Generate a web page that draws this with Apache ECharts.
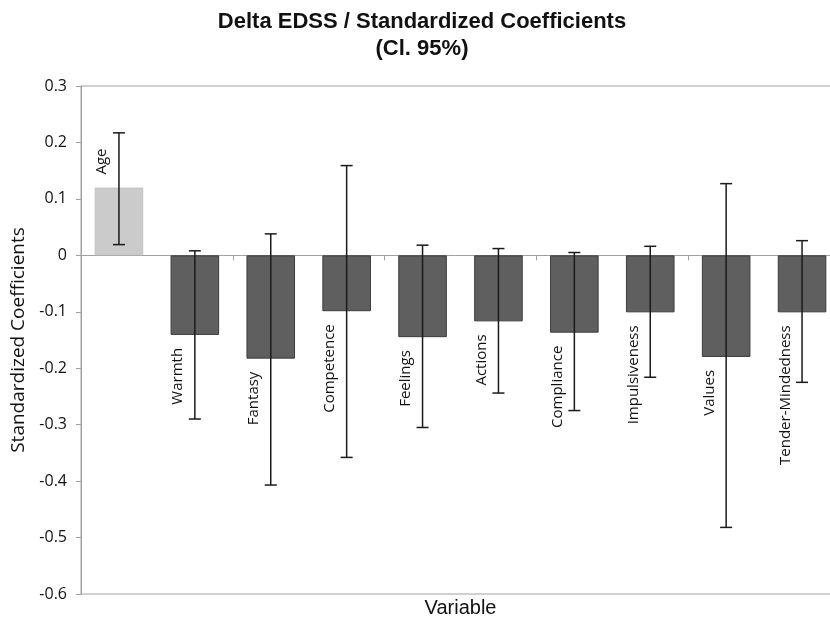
<!DOCTYPE html>
<html><head><meta charset="utf-8">
<script src="https://cdn.jsdelivr.net/npm/echarts@6/dist/echarts.min.js"></script>
<style>html,body{margin:0;padding:0;background:#fff}#c{width:830px;height:622px}</style>
</head><body><div id="c"></div>
<script>
const categories = ['Age','Warmth','Fantasy','Competence','Feelings','Actions','Compliance','Impulsiveness','Values','Tender-Mindedness'];
const coefficients = [0.120,-0.141,-0.183,-0.099,-0.145,-0.117,-0.137,-0.101,-0.180,-0.101];
const ciLower = [0.019,-0.290,-0.407,-0.358,-0.305,-0.244,-0.275,-0.216,-0.482,-0.225];
const ciUpper = [0.217,0.008,0.038,0.159,0.018,0.012,0.005,0.016,0.127,0.026];
const highlighted = ['Age'];

const chart = echarts.init(document.getElementById('c'), null, {renderer:'canvas'});
const barData = coefficients.map((v,i)=>({
  value: v,
  itemStyle: highlighted.includes(categories[i])
    ? {color:'#cbcbcb', borderColor:'#c2c2c2', borderWidth:1}
    : {color:'#5f5f5f', borderColor:'#3c3c3c', borderWidth:1}
}));
const errData = categories.map((c,i)=>[i, ciLower[i], ciUpper[i]]);
const labelData = categories.map((c,i)=>[i, coefficients[i]]);

const option = {
  backgroundColor:'#fff',
  animation:false,
  title:{
    text:'Delta EDSS / Standardized Coefficients\n(Cl. 95%)',
    left:422, textAlign:'center', top:8, padding:0,
    textStyle:{fontFamily:'Liberation Sans', fontWeight:'bold', fontSize:22, color:'#111', lineHeight:27}
  },
  grid:{left:81, top:86, width:759, height:508, show:true, borderColor:'#a0a0a0', borderWidth:1, backgroundColor:'transparent', outerBoundsMode:'none', containLabel:false},
  xAxis:[{
    type:'category', data:categories,
    axisLine:{onZero:true, lineStyle:{color:'#a0a0a0', width:1}},
    axisTick:{show:true, length:5, lineStyle:{color:'#a0a0a0'}},
    axisLabel:{show:false},
    splitLine:{show:false}
  },{
    type:'category', data:categories, position:'bottom',
    axisLine:{show:false, onZero:false}, axisTick:{show:false}, axisLabel:{show:false}, splitLine:{show:false},
    name:'Variable', nameLocation:'middle', nameGap:4,
    nameTextStyle:{fontFamily:'Liberation Sans', fontSize:20, color:'#111'}
  }],
  yAxis:{
    type:'value', min:-0.6, max:0.3, interval:0.1,
    axisLine:{show:true, lineStyle:{color:'#a0a0a0', width:1}},
    axisTick:{show:true, length:5, lineStyle:{color:'#a0a0a0'}},
    splitLine:{show:false},
    axisLabel:{margin:14, fontFamily:'Open Sans', fontSize:16, color:'#111',
      formatter:v=>{const r=Math.round(v*10)/10; return r===0?'0':r.toFixed(1);}},
    name:'Standardized Coefficients', nameLocation:'middle', nameGap:48,
    nameTextStyle:{fontFamily:'Open Sans', fontSize:19, color:'#111'}
  },
  series:[{
    type:'bar', data:barData, barWidth:'64%', xAxisIndex:0
  },{
    type:'custom', xAxisIndex:0, data:errData, z:5,
    renderItem:(params, api)=>{
      const i=api.value(0);
      const lo=api.coord([i, api.value(1)]);
      const hi=api.coord([i, api.value(2)]);
      const hw=6;
      const st={stroke:'#1a1a1a', lineWidth:1.5};
      return {type:'group', children:[
        {type:'line', shape:{x1:hi[0],y1:hi[1],x2:lo[0],y2:lo[1]}, style:st},
        {type:'line', shape:{x1:hi[0]-hw,y1:hi[1],x2:hi[0]+hw,y2:hi[1]}, style:st},
        {type:'line', shape:{x1:lo[0]-hw,y1:lo[1],x2:lo[0]+hw,y2:lo[1]}, style:st}
      ]};
    }
  },{
    type:'custom', xAxisIndex:0, data:labelData, z:6,
    renderItem:(params, api)=>{
      const i=api.value(0), v=api.value(1);
      const p=api.coord([i, v]);
      const band=api.size([1,0])[0];
      const x=p[0]-band*0.32+7.5;
      const neg=v<0;
      return {type:'text', x:x, y: neg ? p[1]+13 : p[1]-13, rotation:Math.PI/2,
        style:{text:categories[i], align: neg?'right':'left', verticalAlign:'middle',
          font:'15px "Open Sans"', fill:'#111'}};
    }
  }]
};
chart.setOption(option);
</script>
</body></html>
